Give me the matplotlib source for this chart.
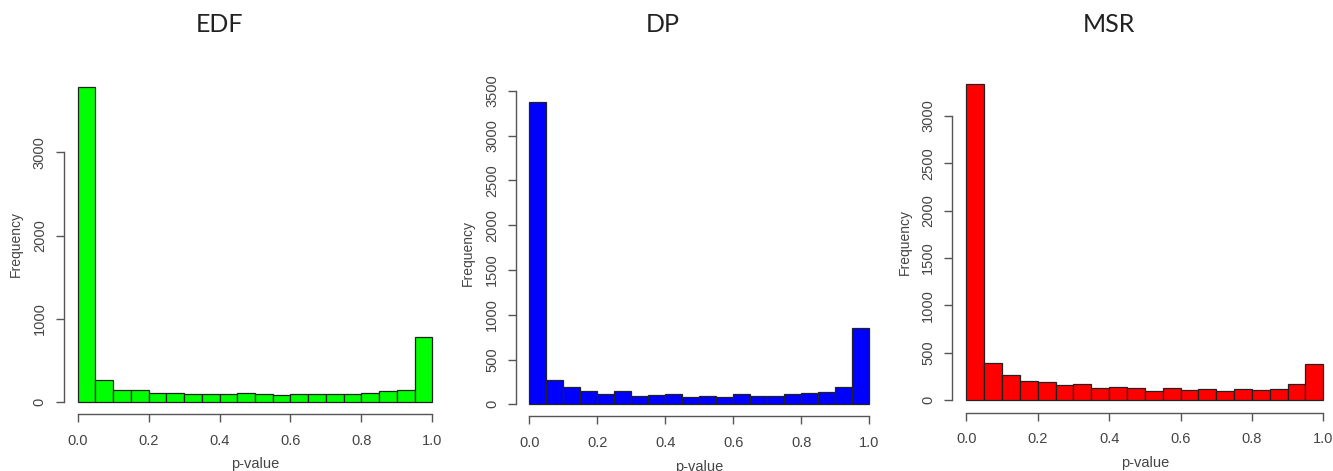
import numpy as np
import matplotlib.pyplot as plt

# bin edges of the histograms (20 bins of width 0.05)
bin_edges = np.linspace(0, 1, 21)

edf_counts = [3790, 261, 140, 140, 108, 100, 88, 88, 88, 100,
              88, 80, 88, 88, 88, 88, 100, 124, 140, 782]
dp_counts = [3369, 271, 197, 152, 119, 152, 93, 104, 119, 78,
             93, 86, 112, 93, 93, 112, 126, 134, 197, 852]
msr_counts = [3338, 391, 268, 201, 194, 162, 173, 123, 134, 123,
              95, 123, 106, 116, 95, 116, 106, 116, 173, 380]

titles = ["EDF", "DP", "MSR"]
colors = ["#00ff00", "#0000ff", "#ff0000"]
yticks = [[0, 1000, 2000, 3000],
          [0, 500, 1000, 1500, 2000, 2500, 3000, 3500],
          [0, 500, 1000, 1500, 2000, 2500, 3000]]
xticks = [0.0, 0.2, 0.4, 0.6, 0.8, 1.0]

W, H = 1333, 471
fig = plt.figure(figsize=(W / 100, H / 100), dpi=100)

# plot regions in pixels: left, right, bottom, top
regions = [(63.5, 446.5, 414.3, 74.2),
           (515.7, 882.6, 416.4, 90.4),
           (952.0, 1337.6, 412.6, 71.3)]
title_x = [219.5, 662.5, 1109]

tick_color = "#444444"
axis_color = "#555555"

for i, counts in enumerate([edf_counts, dp_counts, msr_counts]):
    l, r, b, t = regions[i]
    ax = fig.add_axes([l / W, 1 - b / H, (r - l) / W, (b - t) / H])
    ax.bar(bin_edges[:-1], counts, width=np.diff(bin_edges), align="edge",
           color=colors[i], edgecolor="#222222", linewidth=0.9)
    ymax = max(counts)
    ax.set_xlim(-0.04, 1.04)
    ax.set_ylim(-0.04 * ymax, 1.04 * ymax)
    for s in ["top", "right"]:
        ax.spines[s].set_visible(False)
    ax.spines["left"].set_bounds(yticks[i][0], yticks[i][-1])
    ax.spines["bottom"].set_bounds(0, 1)
    for s in ["left", "bottom"]:
        ax.spines[s].set_color(axis_color)
        ax.spines[s].set_linewidth(1.0)
    ax.set_xticks(xticks)
    ax.set_xticklabels([f"{v:.1f}" for v in xticks])
    ax.set_yticks(yticks[i])
    ax.set_yticklabels([str(v) for v in yticks[i]], rotation=90, va="center")
    ax.tick_params(axis="both", colors=axis_color, labelcolor=tick_color,
                   labelsize=10.5, length=6, width=1.0)
    ax.tick_params(axis="x", pad=8)
    ax.tick_params(axis="y", pad=6)
    for lab in ax.get_xticklabels() + ax.get_yticklabels():
        lab.set_family("Liberation Sans")
    ax.set_xlabel("p-value", fontsize=10.5, color=tick_color,
                  family="Liberation Sans", labelpad=7)
    ax.set_ylabel("Frequency", fontsize=10, color=tick_color,
                  family="Liberation Sans", labelpad=7)
    fig.text(title_x[i] / W, 1 - 25 / H, titles[i], ha="center", va="center",
             fontsize=18, family="Lato", color="#222222")

fig.savefig("out.png", dpi=100)
